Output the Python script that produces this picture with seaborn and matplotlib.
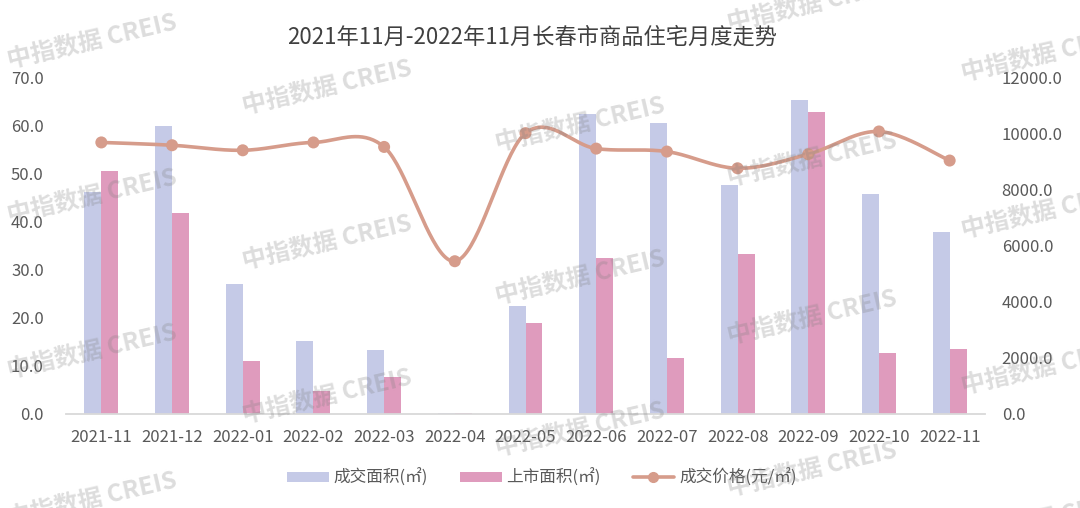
import numpy as np
import pandas as pd
import matplotlib
matplotlib.use("Agg")
import matplotlib.pyplot as plt
import seaborn as sns
from matplotlib.patches import Patch
from matplotlib.lines import Line2D

# ---------------- data ----------------
months = ["2021-11", "2021-12", "2022-01", "2022-02", "2022-03", "2022-04", "2022-05",
          "2022-06", "2022-07", "2022-08", "2022-09", "2022-10", "2022-11"]
deal_area = [46.2, 59.8, 26.9, 15.2, 13.3, 0.3, 22.4, 62.4, 60.5, 47.5, 65.3, 45.6, 37.9]
supply_area = [50.4, 41.8, 11.1, 4.7, 7.6, 0.3, 19.0, 32.3, 11.7, 33.2, 62.8, 12.6, 13.6]
deal_price = [9670, 9570, 9390, 9670, 9510, 5440, 10000, 9450, 9345, 8750, 9250, 10060, 9025]

series_names = ["成交面积(㎡)", "上市面积(㎡)", "成交价格(元/㎡)"]
title = "2021年11月-2022年11月长春市商品住宅月度走势"
left_ticks = [0, 10, 20, 30, 40, 50, 60, 70]
right_ticks = [0, 2000, 4000, 6000, 8000, 10000, 12000]
watermark = "中指数据 CREIS"

# ---------------- style ----------------
BLUE = "#C5CAE7"
PINK = "#DF9BBD"
LINE = "#D69C8B"
TXT = "#595959"

sns.set_theme(style="white")
plt.rcParams["font.family"] = ["Noto Sans CJK SC", "DejaVu Sans"]

fig = plt.figure(figsize=(10.8, 5.08), dpi=100)
W, H = 1080, 508
ax = fig.add_axes([66 / W, 1 - 414 / H, (985 - 66) / W, (414 - 77) / H])

df = pd.DataFrame({
    "month": months * 2,
    "value": deal_area + supply_area,
    "series": [series_names[0]] * len(months) + [series_names[1]] * len(months),
})
sns.barplot(data=df, x="month", y="value", hue="series", palette=[BLUE, PINK],
            width=0.48, gap=0, linewidth=0, saturation=1, ax=ax, legend=False)


def smooth_curve(xs, ys, n=40):
    p = np.column_stack([xs, ys]).astype(float)
    m = len(p)
    out = []
    for i in range(m - 1):
        p0, p3 = p[i], p[i + 1]
        pm = p[i - 1] if i > 0 else p[i]
        pp = p[i + 2] if i + 2 < m else p[i + 1]
        c1 = p0 + (p3 - pm) / 6.0
        c2 = p3 - (pp - p0) / 6.0
        t = np.linspace(0, 1, n)[:, None]
        seg = ((1 - t) ** 3) * p0 + 3 * ((1 - t) ** 2) * t * c1 + 3 * (1 - t) * t ** 2 * c2 + t ** 3 * p3
        out.append(seg if i == 0 else seg[1:])
    out = np.vstack(out)
    return out[:, 0], out[:, 1]


ax2 = ax.twinx()
xpos = np.arange(len(months))
cx, cy = smooth_curve(xpos, deal_price)
sns.lineplot(x=cx, y=cy, sort=False, color=LINE, linewidth=2.6, ax=ax2, legend=False)
sns.scatterplot(x=xpos, y=deal_price, color=LINE, s=75, edgecolor="none", ax=ax2,
                legend=False, zorder=5)

# axes
ax.set_xlim(-0.5, len(months) - 0.5)
ax.set_ylim(0, 70)
ax2.set_ylim(0, 12000)
ax.set_yticks(left_ticks)
ax.set_yticklabels([f"{v:.1f}" for v in left_ticks])
ax2.set_yticks(right_ticks)
ax2.set_yticklabels([f"{v:.1f}" for v in right_ticks])
ax.set_xticks(xpos)
ax.set_xticklabels(months)
ax.set_xlabel("")
ax.set_ylabel("")
ax2.set_ylabel("")
ax.tick_params(axis="x", length=0, pad=11, labelsize=12, colors=TXT)
ax.tick_params(axis="y", length=0, pad=16, labelsize=12, colors=TXT)
ax2.tick_params(axis="y", length=0, pad=12, labelsize=12, colors=TXT)
for s in ["top", "left", "right"]:
    ax.spines[s].set_visible(False)
for s in ax2.spines.values():
    s.set_visible(False)
ax.spines["bottom"].set_color("#D9D9D9")
ax.spines["bottom"].set_linewidth(1.3)
ax.grid(False)
ax2.grid(False)

fig.text(532 / W, 1 - 37 / H, title, ha="center", va="center", fontsize=16, color="#404040")

handles = [Patch(facecolor=BLUE, edgecolor="none"),
           Patch(facecolor=PINK, edgecolor="none"),
           Line2D([], [], color=LINE, lw=2.6, marker="o", markersize=7)]
fig.legend(handles, series_names, loc="center", bbox_to_anchor=(542 / W, 1 - 478 / H),
           ncol=3, frameon=False, fontsize=12, handlelength=2.5, handleheight=0.6,
           handletextpad=0.3, columnspacing=1.9, labelcolor=TXT)

# watermarks (partly cut at the picture edges, as in the original)
wm_pos = [(92, 42), (92, 197), (92, 352), (92, 500),
          (327, 88), (327, 243), (327, 397),
          (580, 125), (580, 278), (580, 430),
          (812, 5), (812, 160), (812, 318), (812, 470),
          (1046, 55), (1046, 212), (1046, 368), (1046, 520)]
for (px, py) in wm_pos:
    fig.text(px / W, 1 - py / H, watermark, ha="center", va="center", rotation=13,
             rotation_mode="anchor", fontsize=17.5, fontweight="bold",
             color="#808080", alpha=0.27, zorder=10)

fig.savefig("out.png", dpi=100)
